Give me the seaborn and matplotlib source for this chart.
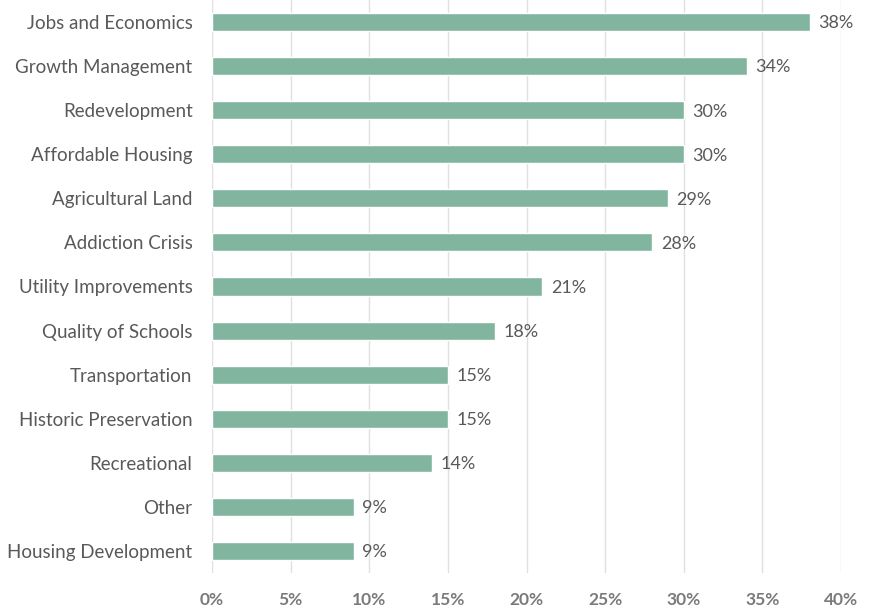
import pandas as pd
import matplotlib.pyplot as plt
import seaborn as sns

# Data
categories = ["Jobs and Economics", "Growth Management", "Redevelopment",
              "Affordable Housing", "Agricultural Land", "Addiction Crisis",
              "Utility Improvements", "Quality of Schools", "Transportation",
              "Historic Preservation", "Recreational", "Other",
              "Housing Development"]
values = [38, 34, 30, 30, 29, 28, 21, 18, 15, 15, 14, 9, 9]
xticks = [0, 5, 10, 15, 20, 25, 30, 35, 40]

BAR = "#82b5a0"
TEXT = "#595959"
TICK = "#7a7a7a"
GRID = "#e0e0e0"

df = pd.DataFrame({"Category": categories, "Share": values})

sns.set_style("white")
plt.rcParams["font.family"] = ["Lato", "DejaVu Sans"]

fig = plt.figure(figsize=(8.71, 6.11), dpi=100)
ax = fig.add_axes([212 / 871, 1 - 573 / 611, (841 - 212) / 871, 573 / 611])

sns.barplot(data=df, x="Share", y="Category", color=BAR, saturation=1,
            width=0.41, ax=ax, zorder=2)

ax.set_xlim(0, 40)
ax.set_ylim(len(categories) - 0.5, -0.5)
ax.set_xticks(xticks)
ax.set_xticklabels([f"{t}%" for t in xticks], fontsize=12.5,
                   fontweight="bold", color=TICK)
ax.set_yticklabels(categories, fontsize=13.5, color=TEXT)
ax.tick_params(axis="both", length=0)
ax.tick_params(axis="x", pad=14)
ax.tick_params(axis="y", pad=14)
ax.set_xlabel("")
ax.set_ylabel("")
for s in ax.spines.values():
    s.set_visible(False)
ax.grid(axis="x", color=GRID, lw=1, zorder=0)
ax.set_axisbelow(True)

for i, v in enumerate(values):
    ax.text(v + 0.55, i + 0.03, f"{v}%", va="center", ha="left",
            fontsize=13, color=TEXT)

fig.savefig("out.png", dpi=100)
